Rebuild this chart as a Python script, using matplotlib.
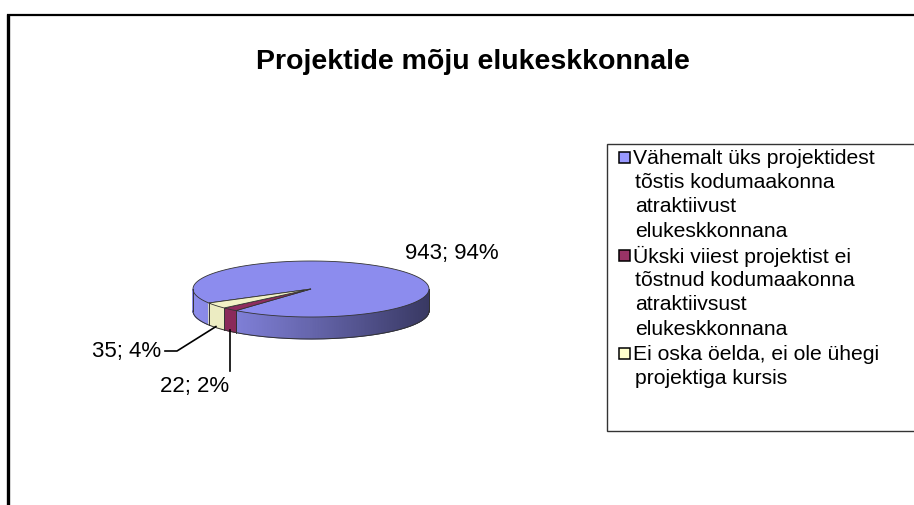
import numpy as np
import matplotlib
matplotlib.use('Agg')
import matplotlib.pyplot as plt
from matplotlib.patches import Polygon, Rectangle
from matplotlib.colors import to_rgb

plt.rcParams['font.family'] = ['Liberation Sans', 'DejaVu Sans']

title = "Projektide mõju elukeskkonnale"
categories = [
    "Vähemalt üks projektidest\ntõstis kodumaakonna\natraktiivust\nelukeskkonnana",
    "Ükski viiest projektist ei\ntõstnud kodumaakonna\natraktiivsust\nelukeskkonnana",
    "Ei oska öelda, ei ole ühegi\nprojektiga kursis",
]
values = [943, 22, 35]
percents = [94, 2, 4]
top_colors = ["#8C8CEE", "#8E2C5E", "#F2F2C6"]
legend_colors = ["#9999FF", "#993366", "#FFFFCC"]

W, H = 914, 506
fig = plt.figure(figsize=(W / 100, H / 100), dpi=100)
ax = fig.add_axes([0, 0, 1, 1])
ax.set_xlim(0, W)
ax.set_ylim(H, 0)
ax.axis('off')

# frame
ax.plot([8, 8], [15, H], color='black', lw=2.4, solid_capstyle='butt')
ax.plot([7, W], [15.5, 15.5], color='black', lw=1.6, solid_capstyle='butt')

ax.text(473, 62, title, ha='center', va='center', fontsize=20.5, fontweight='bold')

# 3D pie geometry (pixel space, y down)
cx, cy, a, b, depth = 311, 290, 118, 28, 22
start = 150.0
total = sum(values)
edges = start + 360.0 * np.concatenate([[0], np.cumsum(values)]) / total


def pt(phi_deg):
    r = np.radians(phi_deg)
    return cx + a * np.cos(r), cy + b * np.sin(r)


def front_parts(s, e):
    parts = []
    for k in range(-1, 3):
        lo, hi = max(s, 360 * k), min(e, 360 * k + 180)
        if hi > lo:
            parts.append((lo, hi))
    return parts


light = np.array(to_rgb("#8C8CEC"))
dark = np.array(to_rgb("#383862"))
side_flat = ["#8A2A5A", "#ECECC2"]

for i in range(len(values)):
    s, e = edges[i], edges[i + 1]
    for lo, hi in front_parts(s, e):
        n = max(2, int((hi - lo) / 0.5))
        ph = np.linspace(lo, hi, n + 1)
        for p1, p2 in zip(ph[:-1], ph[1:]):
            x1, y1 = pt(p1)
            x2, y2 = pt(p2)
            if i == 0:
                t = ((x1 + x2) / 2 - (cx - a)) / (2 * a)
                t = np.clip(t, 0, 1) ** 1.1
                col = light * (1 - t) + dark * t
            else:
                col = side_flat[i - 1]
            ax.add_patch(Polygon([(x1, y1), (x2, y2), (x2, y2 + depth), (x1, y1 + depth)],
                                 closed=True, facecolor=col, edgecolor=col, lw=0.6))
    for ang in (s, e):
        am = ang % 360
        if 0 <= am <= 180:
            x, y = pt(am)
            ax.plot([x, x], [y, y + depth], color='#333333', lw=0.6)

# bottom rim & side outlines
ph = np.linspace(0, 180, 200)
bx = cx + a * np.cos(np.radians(ph))
by = cy + b * np.sin(np.radians(ph)) + depth
ax.plot(bx, by, color='#333333', lw=0.7)
ax.plot([cx + a, cx + a], [cy, cy + depth], color='#333333', lw=0.7)
ax.plot([cx - a, cx - a], [cy, cy + depth], color='#333333', lw=0.7)

# top faces
for i in range(len(values)):
    s, e = edges[i], edges[i + 1]
    ph = np.linspace(s, e, max(3, int((e - s) * 2)))
    pts = [(cx, cy)] + [pt(p) for p in ph]
    ax.add_patch(Polygon(pts, closed=True, facecolor=top_colors[i],
                         edgecolor='#333333', lw=0.6))

# data labels
mids = (edges[:-1] + edges[1:]) / 2
lab_fs = 16
ax.text(405, 254, f"{values[0]}; {percents[0]}%", ha='left', va='center', fontsize=lab_fs)

mx, my = pt(mids[2])
ax.plot([mx, 177, 165], [my + depth - 1, 352, 352], color='black', lw=1.2)
ax.text(161, 351, f"{values[2]}; {percents[2]}%", ha='right', va='center', fontsize=lab_fs)

mx, my = pt(mids[1])
ax.plot([mx, mx], [my + depth - 1, 372], color='black', lw=1.2)
ax.text(mx - 35, 387, f"{values[1]}; {percents[1]}%", ha='center', va='center', fontsize=lab_fs)

# legend box
ax.add_patch(Rectangle((607, 145), W - 607 + 5, 432 - 145, facecolor='white',
                       edgecolor='#333333', lw=1.0))
line_h = 24.5
y = 158
for i, lab in enumerate(categories):
    lines = lab.split("\n")
    ax.add_patch(Rectangle((619, y - 5.5), 11, 11, facecolor=legend_colors[i],
                           edgecolor='black', lw=1.1))
    for j, ln in enumerate(lines):
        ax.text(635 if j else 633, y + j * line_h, ln, ha='left', va='center', fontsize=15.2)
    y += len(lines) * line_h

fig.savefig("out.png", dpi=100)
